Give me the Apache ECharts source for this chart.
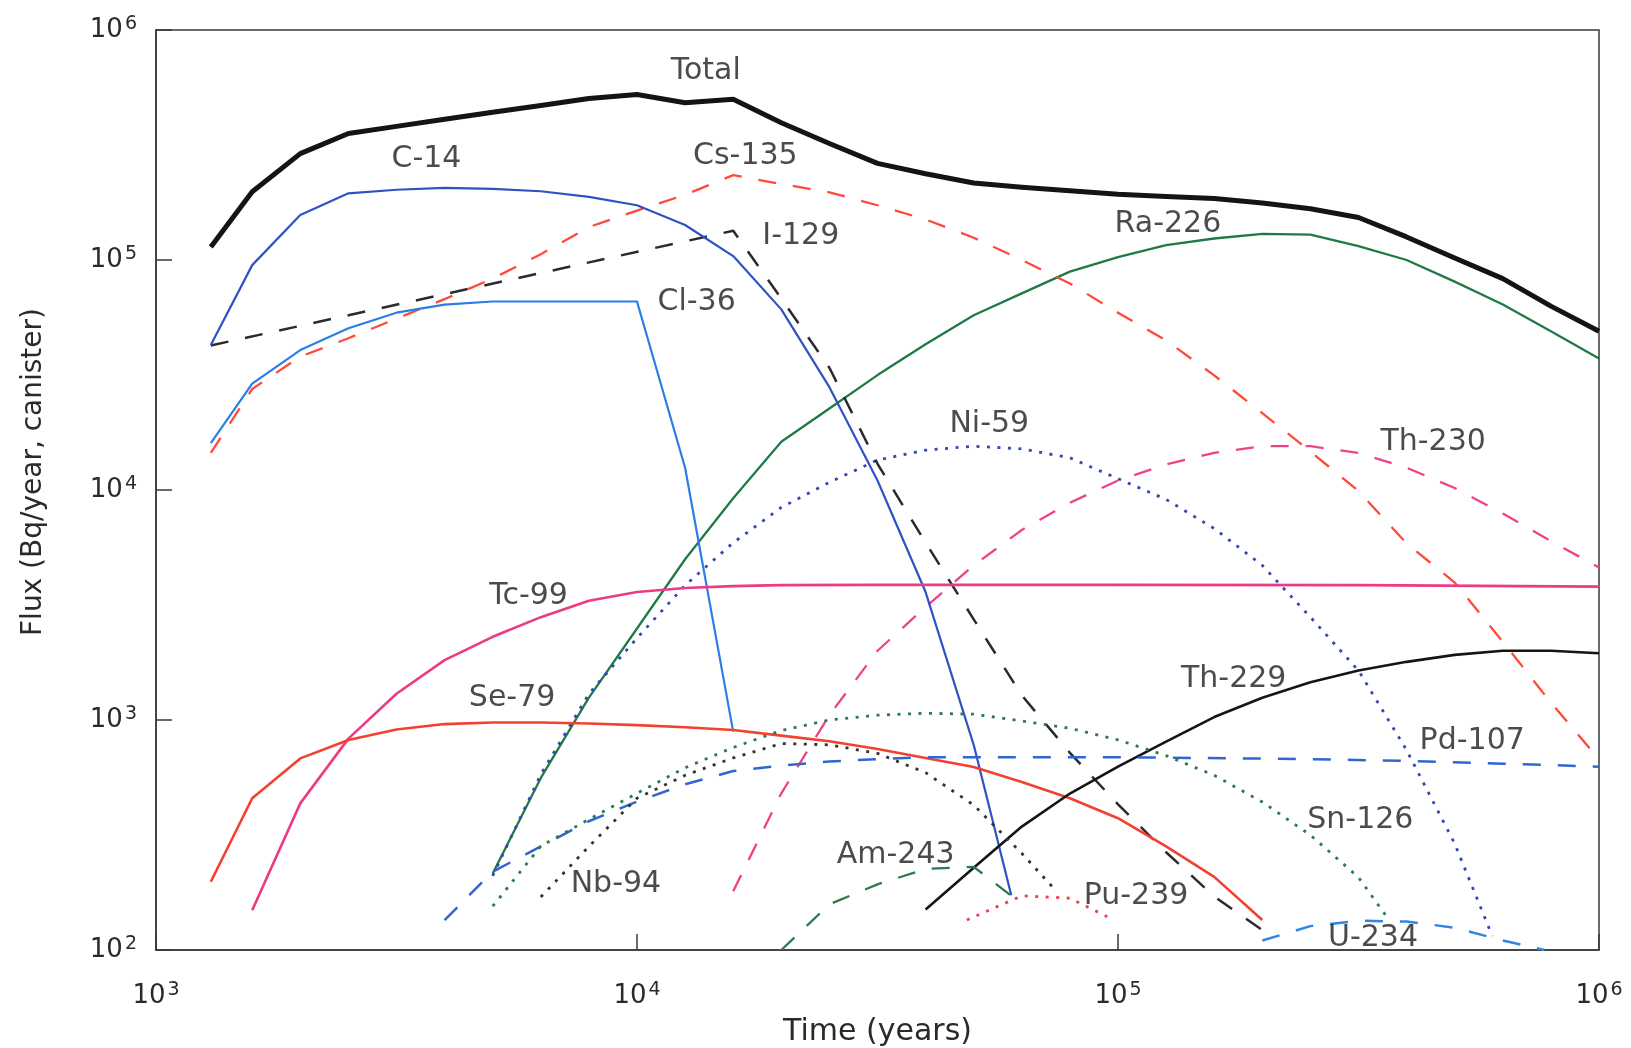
<!DOCTYPE html>
<html><head><meta charset="utf-8">
<script src="https://cdn.jsdelivr.net/npm/echarts@6/dist/echarts.min.js"></script>
<style>html,body{margin:0;padding:0;background:#fff}#c{width:1631px;height:1048px}</style>
</head><body><div id="c"></div>
<script>
// ---- data: [time (years), flux (Bq/year, canister)] ----
const TOTAL = [[1300,114000],[1585,198000],[1995,290000],[2512,355000],[3162,381000],[3981,409000],[5012,439000],[6310,470000],[7943,504000],[10000,524000],[12589,483000],[15849,500000],[19953,395000],[25119,321000],[31623,263000],[39811,237000],[50119,216000],[63096,207000],[79433,200000],[100000,193000],[125893,189000],[158489,185000],[199526,177000],[251189,167000],[316228,153000],[398107,126000],[501187,102000],[630957,83000],[794328,63000],[1000000,49000]];
const C14 = [[1300,42700],[1585,95000],[1995,157000],[2512,195000],[3162,202000],[3981,206000],[5012,204000],[6310,199000],[7943,188000],[10000,173000],[12589,142000],[15849,104000],[19953,61000],[25119,28000],[31623,11000],[39811,3600],[50119,780],[60000,173]];
const CL36 = [[1300,16000],[1585,29000],[1995,40600],[2512,50500],[3162,59000],[3981,64000],[5012,66000],[6310,66000],[7943,66000],[10000,66000],[12589,12500],[15849,890]];
const I129 = [[1300,42500],[15849,134000],[19953,68000],[25119,34000],[31623,13000],[39811,5900],[50119,2740],[63096,1280],[79433,720],[100000,430],[125893,266],[158489,171],[199526,122]];
const CS135 = [[1300,14500],[1585,27500],[1995,38000],[2512,45700],[3162,55600],[3981,67600],[5012,83000],[6310,106000],[7943,139000],[10000,164000],[12589,192000],[15849,234000],[19953,214000],[25119,197000],[31623,173000],[39811,150000],[50119,125000],[63096,100000],[79433,79000],[100000,59000],[125893,44700],[158489,31500],[199526,21600],[251189,14700],[316228,9900],[398107,5860],[501187,3960],[630957,2190],[794328,1190],[1000000,676]];
const RA226 = [[5012,215],[6310,560],[7943,1250],[10000,2500],[12589,5000],[15849,9200],[19953,16200],[25119,22600],[31623,31600],[39811,43000],[50119,57500],[63096,71600],[79433,89000],[100000,103000],[125893,116000],[158489,124000],[199526,130000],[251189,129000],[316228,115000],[398107,100000],[501187,80500],[630957,64000],[794328,49000],[1000000,37300]];
const NI59 = [[5012,210],[6310,580],[7943,1300],[10000,2270],[12589,3850],[15849,5900],[19953,8400],[25119,10800],[31623,13500],[39811,14900],[50119,15500],[63096,15100],[79433,13800],[100000,11200],[125893,9100],[158489,6800],[199526,4700],[251189,2800],[316228,1640],[398107,740],[501187,290],[600000,115]];
const TH230 = [[15849,180],[19953,480],[25119,1050],[31623,2000],[39811,3100],[50119,4700],[63096,6700],[79433,8800],[100000,11000],[125893,12900],[158489,14500],[199526,15500],[251189,15500],[316228,14500],[398107,12500],[501187,10200],[630957,7900],[794328,6000],[1000000,4600]];
const TC99 = [[1585,149],[1995,434],[2512,830],[3162,1300],[3981,1820],[5012,2300],[6310,2800],[7943,3300],[10000,3600],[12589,3750],[15849,3820],[19953,3860],[31623,3870],[100000,3870],[316228,3860],[1000000,3800]];
const SE79 = [[1300,198],[1585,457],[1995,681],[2512,818],[3162,910],[3981,960],[5012,975],[6310,975],[7943,965],[10000,950],[12589,930],[15849,905],[19953,855],[25119,808],[31623,748],[39811,684],[50119,625],[63096,537],[79433,457],[100000,374],[125893,282],[158489,208],[199526,135]];
const TH229 = [[39811,150],[50119,228],[63096,344],[79433,479],[100000,627],[125893,805],[158489,1030],[199526,1250],[251189,1460],[316228,1640],[398107,1790],[501187,1920],[630957,2000],[794328,2000],[1000000,1950]];
const PD107 = [[3981,135],[5012,219],[6310,282],[7943,363],[10000,442],[12589,525],[15849,600],[19953,633],[25119,660],[31623,676],[39811,689],[100000,689],[251189,676],[398107,664],[630957,646],[1000000,627]];
const SN126 = [[5012,155],[6310,283],[7943,370],[10000,480],[12589,620],[15849,760],[19953,900],[25119,1000],[31623,1050],[39811,1070],[50119,1060],[63096,990],[79433,920],[100000,820],[125893,700],[158489,575],[199526,440],[251189,316],[316228,207],[366000,135]];
const NB94 = [[6310,170],[7943,282],[10000,457],[12589,575],[15849,684],[19953,790],[25119,780],[31623,716],[39811,590],[50119,427],[63096,263],[74500,180]];
const AM243 = [[19953,100],[25119,158],[31623,193],[39811,225],[50119,230],[60000,172]];
const PU239 = [[48500,135],[63096,172],[79433,168],[98000,135]];
const U234 = [[199526,110],[251189,127],[316228,134],[398107,133],[501187,125],[630957,110],[770000,100]];

// curve labels: text, time, flux (anchor at text centre)
const LABEL_TEXT = ['Total','C-14','Cs-135','I-129','Cl-36','Ra-226','Ni-59','Th-230','Tc-99','Se-79','Th-229','Pd-107','Sn-126','Am-243','Nb-94','Pu-239','U-234'];
const LABEL_T = [13900,3650,16800,21900,13300,127000,54000,452000,5950,5500,174000,545000,319000,34500,9040,109000,339000];
const LABEL_F = [660000,275000,283000,127000,65600,143000,19300,16200,3440,1250,1500,810,365,258,193,171,112];

const X_TICKS = [1000, 10000, 100000, 1000000];
const Y_TICKS = [100, 1000, 10000, 100000, 1000000];

const DOT = [3, 7.5], DASH = [18, 17];
function line(name, data, color, width, type) {
  return {
    name, type: 'line', data, showSymbol: false, symbol: 'none', silent: true,
    lineStyle: { color, width, type: type || 'solid', cap: 'butt', join: 'round' },
    z: 3
  };
}

const chart = echarts.init(document.getElementById('c'), null, { renderer: 'canvas' });
const FONT = 'DejaVu Sans';
const tickFmt = v => '{b|10}{s|' + Math.round(Math.log10(v)) + '}';
const richTicks = {
  b: { fontFamily: FONT, fontSize: 26, color: '#2a2a2a', lineHeight: 30 },
  s: { fontFamily: FONT, fontSize: 19, color: '#2a2a2a', verticalAlign: 'top', lineHeight: 19, padding: [0, 0, 0, 2] }
};

chart.setOption({
  animation: false,
  backgroundColor: '#ffffff',
  grid: { left: 156, right: 32, top: 30, bottom: 98, containLabel: false, outerBoundsMode: 'none', show: true, borderColor: '#3a3a3a', borderWidth: 1.5, backgroundColor: 'transparent' },
  xAxis: {
    type: 'log', logBase: 10, min: X_TICKS[0], max: X_TICKS[X_TICKS.length - 1],
    name: 'Time (years)', nameLocation: 'middle', nameGap: 67,
    nameTextStyle: { fontFamily: FONT, fontSize: 30, color: '#2a2a2a' },
    axisLine: { show: true, lineStyle: { color: '#3a3a3a', width: 1.5 } },
    axisTick: { show: true, inside: true, length: 16, lineStyle: { color: '#3a3a3a', width: 1.5 } },
    minorTick: { show: false },
    splitLine: { show: false },
    axisLabel: { margin: 31, formatter: tickFmt, rich: richTicks }
  },
  yAxis: {
    type: 'log', logBase: 10, min: Y_TICKS[0], max: Y_TICKS[Y_TICKS.length - 1],
    name: 'Flux (Bq/year, canister)', nameLocation: 'middle', nameGap: 108, nameRotate: 90,
    nameTextStyle: { fontFamily: FONT, fontSize: 28, color: '#2a2a2a', padding: [0, 0, 0, 36] },
    axisLine: { show: true, lineStyle: { color: '#3a3a3a', width: 1.5 } },
    axisTick: { show: true, inside: true, length: 16, lineStyle: { color: '#3a3a3a', width: 1.5 } },
    minorTick: { show: false },
    splitLine: { show: false },
    axisLabel: { margin: 19, formatter: tickFmt, rich: richTicks }
  },
  series: [
    line('Ra-226', RA226, '#1f7a45', 2.3),
    line('Ni-59', NI59, '#3347b5', 2.8, DOT),
    line('Th-230', TH230, '#f0428a', 2.3, DASH),
    line('Cs-135', CS135, '#ff4a3a', 2.3, DASH),
    line('I-129', I129, '#2b2b2b', 2.5, DASH),
    line('Cl-36', CL36, '#2a7fe3', 2.2),
    line('C-14', C14, '#2f52c4', 2.2),
    line('Tc-99', TC99, '#ec3a84', 2.6),
    line('Se-79', SE79, '#f4402e', 2.6),
    line('Th-229', TH229, '#151515', 2.6),
    line('Pd-107', PD107, '#2f66d0', 2.5, DASH),
    line('Sn-126', SN126, '#2d7a4e', 2.8, DOT),
    line('Nb-94', NB94, '#333333', 2.8, DOT),
    line('Am-243', AM243, '#2d7a4e', 2.3, DASH),
    line('Pu-239', PU239, '#f04050', 2.8, DOT),
    line('U-234', U234, '#2f86e6', 2.5, DASH),
    line('Total', TOTAL, '#141414', 5),
    {
      name: 'labels', type: 'scatter', silent: true, symbolSize: 2,
      itemStyle: { color: 'rgba(0,0,0,0)' },
      data: LABEL_TEXT.map((t, i) => [LABEL_T[i], LABEL_F[i], t]),
      label: {
        show: true, position: 'inside', formatter: p => p.data[2],
        fontFamily: FONT, fontSize: 30, color: '#1e1e1e', align: 'center', verticalAlign: 'middle'
      },
      labelLayout: { hideOverlap: false },
      z: 5
    }
  ]
});
</script></body></html>
